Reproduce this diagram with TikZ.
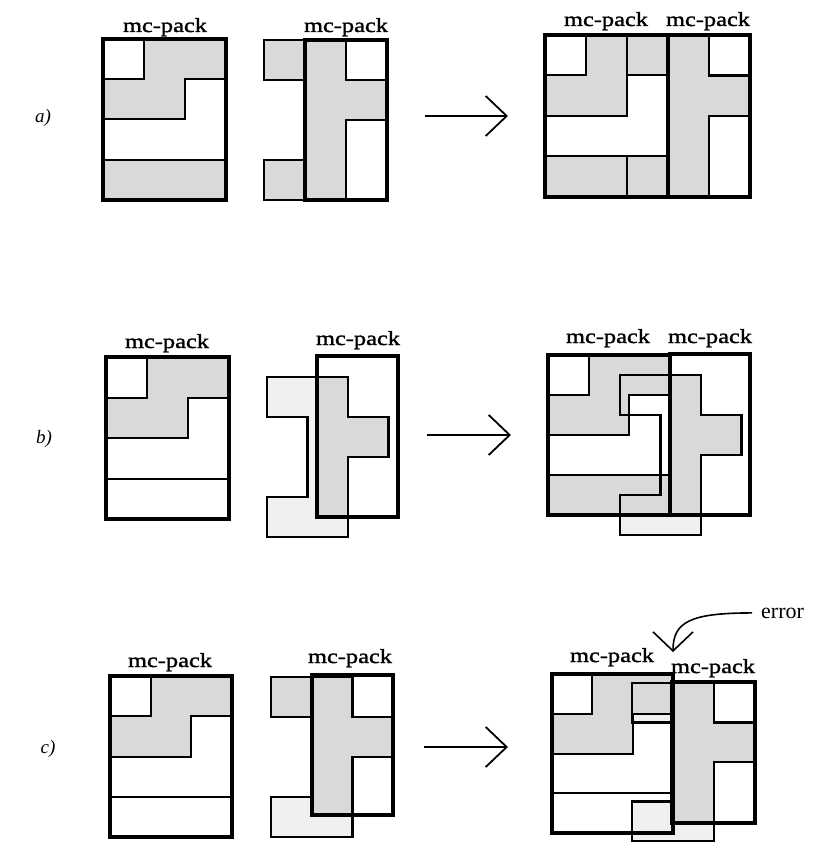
\documentclass[tikz,border=0pt]{standalone}
\usepackage{fontspec}
\setmainfont{Liberation Serif}
\newfontfamily\packfont[FakeStretch=1.22,FakeBold=1.5]{Liberation Serif}
\usetikzlibrary{arrows.meta}

\tikzset{
  packbox/.style={line width=3.6pt, line join=miter},
  cellline/.style={line width=2pt},
  pieceline/.style={line width=2.4pt, line join=miter},
  dotfill/.style={fill=black!15},
  lightfill/.style={fill=black!6},
  packlabel/.style={anchor=base, inner sep=0pt, font=\packfont\fontsize{20}{24}\selectfont},
  rowlabel/.style={anchor=base, inner sep=0pt, font=\itshape\fontsize{19}{23}\selectfont},
  steparrow/.style={line width=1.8pt, -{Straight Barb[length=21pt,width=40pt]}},
  errarrow/.style={line width=1.6pt, -{Straight Barb[length=19pt,width=40pt]}},
  piecepath/.style={insert path={(0,0) -- (2,0) -- (2,1) -- (3,1) -- (3,2) -- (2,2)
      -- (2,4) -- (0,4) -- (0,3) -- (1,3) -- (1,1) -- (0,1) -- cycle}},
  spath/.style={insert path={(1,0) -- (3,0) -- (3,1) -- (2,1) -- (2,2) -- (0,2)
      -- (0,1) -- (1,1) -- cycle}},
}

% cells of the first pack, #1 = fill of the bottom strip
\newcommand{\packcells}[1]{%
  \path[dotfill, spath];
  \path[#1] (0,3) rectangle (3,4);
  \draw[cellline] (1,0) -- (1,1) -- (0,1);
  \draw[cellline] (3,1) -- (2,1) -- (2,2) -- (0,2);
  \draw[cellline] (0,3) -- (3,3);
}

\begin{document}
\begin{tikzpicture}[x=1pt, y=-1pt]
\useasboundingbox (0,0) rectangle (812,842);

%%%%%%%%%% a) %%%%%%%%%%
\node[rowlabel] (row-a) at (43,123) {a)};

% first pack
\begin{scope}[shift={(103pt,-39pt)}, x=41pt, y=-40.25pt]
  \packcells{dotfill}
\end{scope}
\draw[packbox] (103,39) rectangle (226,200);
\node[packlabel] (a-one) at (165,32) {mc-pack};

% second pack
\begin{scope}[shift={(264pt,-40pt)}, x=41pt, y=-40pt]
  \path[dotfill, piecepath];
  \draw[pieceline, piecepath];
\end{scope}
\draw[packbox] (305,40) rectangle (387,200);
\node[packlabel] (a-two) at (346,32) {mc-pack};

\coordinate (a-from) at (425,116);
\coordinate (a-to) at (508,116);
\draw[steparrow] (a-from) -- (a-to);

% result
\begin{scope}[shift={(545pt,-35pt)}, x=41pt, y=-40.5pt]
  \path[dotfill] (1,0) -- (2,0) -- (2,2) -- (0,2) -- (0,1) -- (1,1) -- cycle;
  \path[dotfill] (2,0) rectangle (3,1);
  \path[dotfill] (0,3) rectangle (3,4);
  \path[dotfill] (3,0) rectangle (4,4);
  \path[dotfill] (4,1) rectangle (5,2);
  \draw[cellline] (1,0) -- (1,1) -- (0,1);
  \draw[cellline] (2,0) -- (2,2) -- (0,2);
  \draw[cellline] (2,1) -- (3,1);
  \draw[cellline] (0,3) -- (3,3);
  \draw[cellline] (2,3) -- (2,4);
  \draw[pieceline] (4,0) -- (4,1) -- (5,1);
  \draw[pieceline] (5,2) -- (4,2) -- (4,4);
\end{scope}
\draw[packbox] (545,35) rectangle (668,197);
\draw[packbox] (668,35) rectangle (750,197);
\node[packlabel] (a-res-one) at (606,26) {mc-pack};
\node[packlabel] (a-res-two) at (708,26) {mc-pack};

%%%%%%%%%% b) %%%%%%%%%%
\node[rowlabel] (row-b) at (44,443) {b)};

% first pack
\begin{scope}[shift={(106pt,-357pt)}, x=41pt, y=-40.5pt]
  \packcells{}
\end{scope}
\draw[packbox] (106,357) rectangle (229,519);
\node[packlabel] (b-one) at (167,348) {mc-pack};

% second pack, piece slid out of its box
\begin{scope}[shift={(267pt,-377pt)}, x=40.5pt, y=-40pt]
  \path[lightfill, piecepath];
  \begin{scope}
    \clip (1.235,-0.525) rectangle (3.235,3.5);
    \path[dotfill, piecepath];
  \end{scope}
  \draw[pieceline, piecepath];
\end{scope}
\draw[packbox] (317,356) rectangle (398,517);
\node[packlabel] (b-two) at (358,345) {mc-pack};

\coordinate (b-from) at (427,435);
\coordinate (b-to) at (511,435);
\draw[steparrow] (b-from) -- (b-to);

% result
\begin{scope}[shift={(548pt,-355pt)}, x=40.67pt, y=-40pt]
  \packcells{dotfill}
\end{scope}
\begin{scope}[shift={(620pt,-375pt)}, x=40.5pt, y=-40pt]
  \begin{scope}
    \clip (-1,3.5) rectangle (4,5);
    \path[lightfill, piecepath];
  \end{scope}
  \begin{scope}
    \clip (1.235,-0.525) rectangle (3.21,3.5);
    \path[dotfill, piecepath];
  \end{scope}
  \draw[pieceline, piecepath];
\end{scope}
\draw[packbox] (548,355) rectangle (670,515);
\draw[packbox] (670,354) rectangle (750,515);
\node[packlabel] (b-res-one) at (608,343) {mc-pack};
\node[packlabel] (b-res-two) at (710,343) {mc-pack};

%%%%%%%%%% c) %%%%%%%%%%
\node[rowlabel] (row-c) at (48,753) {c)};

% first pack
\begin{scope}[shift={(110pt,-676pt)}, x=40.67pt, y=-40.25pt]
  \packcells{}
\end{scope}
\draw[packbox] (110,676) rectangle (232,837);
\node[packlabel] (c-one) at (170,667) {mc-pack};

% second pack, box too short for its piece
\begin{scope}[shift={(271pt,-677pt)}, x=40.67pt, y=-40pt]
  \path[lightfill, piecepath];
  \path[dotfill] (0,0) rectangle (1,1);
  \begin{scope}
    \clip (1,-0.05) rectangle (3,3.45);
    \path[dotfill, piecepath];
  \end{scope}
  \draw[pieceline, piecepath];
\end{scope}
\draw[packbox] (312,675) rectangle (393,815);
\node[packlabel] (c-two) at (350,663) {mc-pack};

\coordinate (c-from) at (424,747);
\coordinate (c-to) at (508,747);
\draw[steparrow] (c-from) -- (c-to);

% result
\begin{scope}[shift={(632pt,-683pt)}, x=41pt, y=-39.5pt]
  \path[lightfill, piecepath];
\end{scope}
\begin{scope}[shift={(552pt,-674pt)}, x=40.33pt, y=-39.75pt]
  \packcells{}
\end{scope}
\begin{scope}[shift={(632pt,-683pt)}, x=41pt, y=-39.5pt]
  \begin{scope}
    \clip (0.976,-0.025) rectangle (3,3.544);
    \path[dotfill, piecepath];
  \end{scope}
  \draw[pieceline, piecepath];
\end{scope}
\draw[packbox] (552,674) rectangle (673,833);
\draw[packbox] (672,682) rectangle (755,823);
\node[packlabel] (c-res-one) at (612,662) {mc-pack};
\node[packlabel] (c-res-two) at (713,673) {mc-pack};

% the error mark
\node[anchor=base west, inner sep=0pt, font=\fontsize{22}{26}\selectfont] (err) at (761,618) {error};
\coordinate (err-tip) at (673,652);
\draw[errarrow] (err.west) ++(-9,0) .. controls +(-62,0) and +(0,-30) .. (err-tip);

\end{tikzpicture}
\end{document}
